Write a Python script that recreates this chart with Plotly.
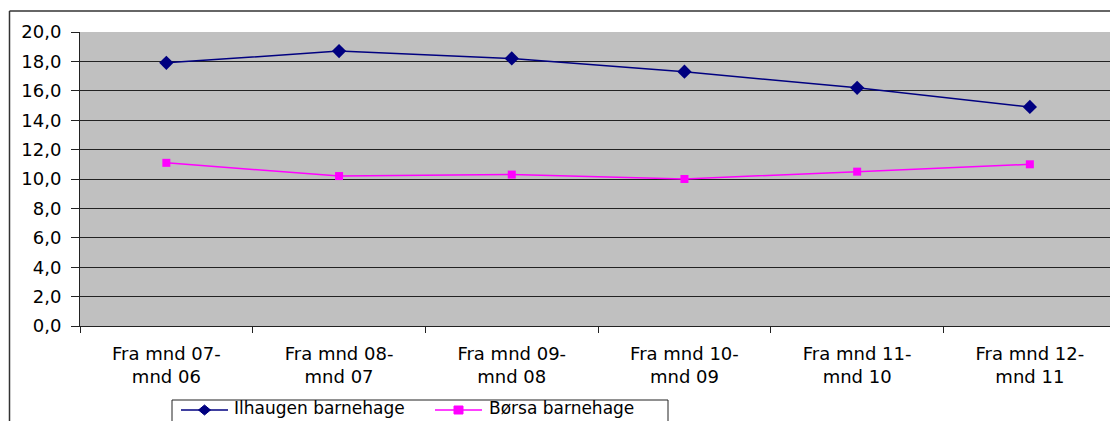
import plotly.graph_objects as go

categories = ["Fra mnd 07-<br>mnd 06", "Fra mnd 08-<br>mnd 07", "Fra mnd 09-<br>mnd 08",
              "Fra mnd 10-<br>mnd 09", "Fra mnd 11-<br>mnd 10", "Fra mnd 12-<br>mnd 11"]
ilhaugen = [17.9, 18.7, 18.2, 17.3, 16.2, 14.9]
borsa = [11.1, 10.2, 10.3, 10.0, 10.5, 11.0]
series_names = ["Ilhaugen barnehage", "Børsa barnehage"]
series_colors = ["#000080", "#FF00FF"]

W, H = 1110, 421
L, R, T, B = 80, 0, 32, 95
pw, ph = W - L - R, H - T - B
FONT = "DejaVu Sans, Liberation Sans, Arial, sans-serif"

def px2x(px):
    return (px - L) / pw

def px2y(py):
    return (H - B - py) / ph

fig = go.Figure()
fig.add_trace(go.Scatter(x=categories, y=ilhaugen, name=series_names[0],
                         mode="lines+markers",
                         line=dict(color=series_colors[0], width=1.5),
                         marker=dict(symbol="diamond", size=11, color=series_colors[0])))
fig.add_trace(go.Scatter(x=categories, y=borsa, name=series_names[1],
                         mode="lines+markers",
                         line=dict(color=series_colors[1], width=1.5),
                         marker=dict(symbol="square", size=8, color=series_colors[1])))

shapes = [
    # outer chart frame (top and left edges)
    dict(type="line", xref="paper", yref="paper", x0=px2x(9.5), x1=px2x(1120),
         y0=px2y(11), y1=px2y(11), line=dict(color="#333", width=1.5)),
    dict(type="line", xref="paper", yref="paper", x0=px2x(9.5), x1=px2x(9.5),
         y0=px2y(11), y1=px2y(440), line=dict(color="#333", width=1.5)),
    # legend box (cut off at bottom like reference)
    dict(type="rect", xref="paper", yref="paper", x0=px2x(172), x1=px2x(668),
         y0=px2y(400), y1=px2y(440), line=dict(color="#222", width=1), fillcolor="white"),
]
annotations = []

# manual legend entries
legend_items = [(181, 228, 233), (435, 482, 488)]
ly = 410
for i, (lx0, lx1, tx) in enumerate(legend_items):
    c = series_colors[i]
    shapes.append(dict(type="line", xref="paper", yref="paper", x0=px2x(lx0), x1=px2x(lx1),
                       y0=px2y(ly), y1=px2y(ly), line=dict(color=c, width=1.5)))
    cx = (lx0 + lx1) / 2
    if i == 0:
        path = "M {} {} L {} {} L {} {} L {} {} Z".format(
            px2x(cx - 6), px2y(ly), px2x(cx), px2y(ly - 5),
            px2x(cx + 6), px2y(ly), px2x(cx), px2y(ly + 5))
        shapes.append(dict(type="path", xref="paper", yref="paper", path=path,
                           fillcolor=c, line=dict(color=c, width=1)))
    else:
        shapes.append(dict(type="rect", xref="paper", yref="paper",
                           x0=px2x(cx - 4.5), x1=px2x(cx + 4.5),
                           y0=px2y(ly - 4), y1=px2y(ly + 4),
                           fillcolor=c, line=dict(color=c, width=1)))
    annotations.append(dict(xref="paper", yref="paper", x=px2x(tx), y=px2y(408),
                            xanchor="left", yanchor="middle", showarrow=False, borderpad=0,
                            text=series_names[i], font=dict(family=FONT, size=17, color="black")))

cat_px = 172.7
fig.update_layout(
    width=W, height=H,
    margin=dict(l=L, r=R, t=T, b=B, pad=0),
    paper_bgcolor="white",
    plot_bgcolor="#C0C0C0",
    font=dict(family=FONT, size=18, color="black"),
    separators=",.",
    showlegend=False,
    xaxis=dict(type="category", range=[-0.5, -0.5 + pw / cat_px], automargin=False,
               showgrid=False, showline=True, linecolor="#222", linewidth=1,
               ticks="outside", ticklen=6, tickcolor="#222", tickson="boundaries",
               ticklabelstandoff=11, tickfont=dict(size=18)),
    yaxis=dict(range=[0, 20], dtick=2, tickformat=".1f", automargin=False,
               showgrid=True, gridcolor="#222", gridwidth=1,
               showline=True, linecolor="#222", linewidth=1,
               ticks="outside", ticklen=8, tickcolor="#222", ticklabelstandoff=6,
               tickfont=dict(size=18), zeroline=False),
    shapes=shapes,
    annotations=annotations,
)

fig.write_html("out.html")
